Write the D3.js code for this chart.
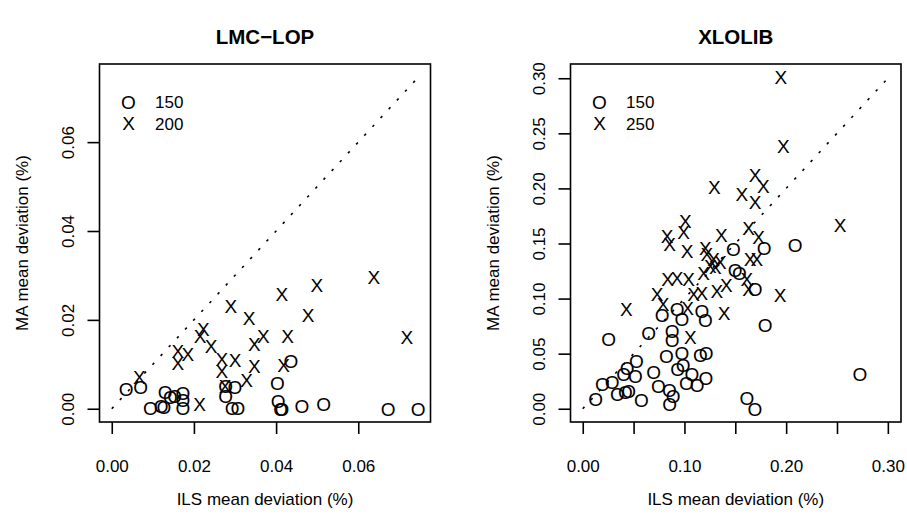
<!DOCTYPE html>
<html>
<head>
<meta charset="utf-8">
<script src="https://cdn.jsdelivr.net/npm/d3@7"></script>
<style>
  html, body { margin: 0; padding: 0; background: #fff; }
  svg { display: block; font-family: "Liberation Sans", Arial, Helvetica, sans-serif; }
</style>
</head>
<body>
<svg id="chart" width="907" height="518"></svg>
<script>
// Mean deviation (%) per instance: [ILS, MA]
const lmc150 = [
  [0.0035, 0.0043], [0.0070, 0.0048], [0.0094, 0.0001], [0.0120, 0.0006], [0.0127, 0.0004],
  [0.0130, 0.0037], [0.0143, 0.0025], [0.0153, 0.0028], [0.0173, 0.0036], [0.0173, 0.0020],
  [0.0173, 0.0001], [0.0277, 0.0050], [0.0277, 0.0029], [0.0300, 0.0049], [0.0293, 0.0001],
  [0.0307, 0.0002], [0.0403, 0.0057], [0.0405, 0.0018], [0.0411, 0.0000], [0.0414, 0.0000],
  [0.0436, 0.0108], [0.0463, 0.0005], [0.0516, 0.0011], [0.0673, 0.0000], [0.0746, 0.0000]
];
const lmc200 = [
  [0.0067, 0.0071], [0.0161, 0.0129], [0.0161, 0.0103], [0.0185, 0.0123], [0.0215, 0.0164],
  [0.0223, 0.0179], [0.0242, 0.0140], [0.0268, 0.0112], [0.0268, 0.0084], [0.0300, 0.0110],
  [0.0290, 0.0231], [0.0334, 0.0204], [0.0347, 0.0146], [0.0347, 0.0095], [0.0328, 0.0065],
  [0.0276, 0.0051], [0.0369, 0.0163], [0.0414, 0.0258], [0.0499, 0.0277], [0.0638, 0.0297],
  [0.0478, 0.0211], [0.0428, 0.0164], [0.0718, 0.0161], [0.0418, 0.0099], [0.0214, 0.0010]
];
const xlo150 = [
  [0.0927, 0.0907], [0.0780, 0.0846], [0.0976, 0.0816], [0.1172, 0.0885], [0.1205, 0.0803],
  [0.0648, 0.0689], [0.0878, 0.0703], [0.0878, 0.0621], [0.0255, 0.0628], [0.0527, 0.0430],
  [0.0822, 0.0476], [0.0976, 0.0500], [0.1156, 0.0482], [0.1214, 0.0507], [0.0436, 0.0370],
  [0.0403, 0.0318], [0.0517, 0.0294], [0.0697, 0.0330], [0.0933, 0.0361], [0.0986, 0.0400],
  [0.1074, 0.0318], [0.1211, 0.0279], [0.0289, 0.0239], [0.0193, 0.0223], [0.1018, 0.0230],
  [0.1126, 0.0214], [0.0743, 0.0209], [0.0851, 0.0167], [0.0890, 0.0118], [0.0854, 0.0045],
  [0.0341, 0.0136], [0.0419, 0.0148], [0.0452, 0.0157], [0.0576, 0.0076], [0.0128, 0.0085],
  [0.1614, 0.0097], [0.1693, 0.0000], [0.1482, 0.1447], [0.1784, 0.1462], [0.2088, 0.1483],
  [0.1499, 0.1258], [0.1541, 0.1235], [0.1695, 0.1083], [0.1794, 0.0758], [0.2726, 0.0318]
];
const xlo250 = [
  [0.1293, 0.2008], [0.1008, 0.1704], [0.0992, 0.1599], [0.0829, 0.1565], [0.1362, 0.1579],
  [0.1948, 0.3009], [0.1973, 0.2381], [0.1695, 0.2120], [0.1777, 0.2023], [0.1565, 0.1947],
  [0.1695, 0.1877], [0.1630, 0.1635], [0.1728, 0.1556], [0.2530, 0.1665], [0.0854, 0.1492],
  [0.1025, 0.1431], [0.1205, 0.1462], [0.1221, 0.1401], [0.1286, 0.1356], [0.1254, 0.1295],
  [0.0834, 0.1180], [0.0927, 0.1189], [0.1041, 0.1180], [0.1188, 0.1235], [0.1411, 0.1119],
  [0.1090, 0.1037], [0.1172, 0.1053], [0.1319, 0.1067], [0.0730, 0.1037], [0.0789, 0.0946],
  [0.0429, 0.0907], [0.1031, 0.0916], [0.1391, 0.0871], [0.1057, 0.0652], [0.1646, 0.1356],
  [0.1712, 0.1356], [0.1352, 0.1328], [0.1614, 0.1174], [0.1630, 0.1083], [0.1941, 0.1028],
  [0.1303, 0.1283]
];

const lmcTicks = [0, 0.02, 0.04, 0.06];
const xloTicks = [0, 0.05, 0.10, 0.15, 0.20, 0.25, 0.30];
const xloXLabelTicks = [0, 0.10, 0.20, 0.30];

const xTitle = "ILS mean deviation (%)";
const yTitle = "MA mean deviation (%)";

const panels = [
  {
    title: "LMC\u2212LOP",
    series: [{ sym: "O", label: "150", data: lmc150 }, { sym: "X", label: "200", data: lmc200 }],
    xTicks: lmcTicks, xLabelTicks: lmcTicks, yTicks: lmcTicks,
    left: 99.5, right: 430.5
  },
  {
    title: "XLOLIB",
    series: [{ sym: "O", label: "150", data: xlo150 }, { sym: "X", label: "250", data: xlo250 }],
    xTicks: xloTicks, xLabelTicks: xloXLabelTicks, yTicks: xloTicks,
    left: 570.5, right: 901
  }
];

const plotTop = 64, plotBottom = 422;
const labelSize = 17, symbolSize = 19, titleSize = 20.5;
const fmt = d3.format(".2f");
const isIn = (arr, v) => arr.some(a => Math.abs(a - v) < 1e-9);

const svg = d3.select("#chart");

panels.forEach(p => {
  const g = svg.append("g");
  const all = p.series.flatMap(s => s.data.flat());
  const lo = d3.min(all), hi = d3.max(all);
  const pad = (hi - lo) * 0.04;
  const lim = [lo - pad, hi + pad];

  const x = d3.scaleLinear().domain(lim).range([p.left, p.right]);
  const y = d3.scaleLinear().domain(lim).range([plotBottom, plotTop]);

  // identity reference line
  g.append("line")
    .attr("x1", x(lo)).attr("y1", y(lo))
    .attr("x2", x(hi)).attr("y2", y(hi))
    .attr("stroke", "#000").attr("stroke-width", 1.6)
    .attr("stroke-dasharray", "2.5,9.5");

  // point symbols
  p.series.forEach(s => {
    g.append("g").selectAll("text").data(s.data).join("text")
      .attr("x", d => x(d[0]))
      .attr("y", d => y(d[1]))
      .attr("dy", "0.36em")
      .attr("text-anchor", "middle")
      .attr("font-size", symbolSize)
      .text(s.sym);
  });

  // plot frame
  g.append("rect")
    .attr("x", p.left).attr("y", plotTop)
    .attr("width", p.right - p.left).attr("height", plotBottom - plotTop)
    .attr("fill", "none").attr("stroke", "#000").attr("stroke-width", 1.6);

  // x axis
  const ax = g.append("g").attr("transform", `translate(0,${plotBottom})`)
    .call(d3.axisBottom(x).tickValues(p.xTicks).tickSize(12)
      .tickFormat(d => isIn(p.xLabelTicks, d) ? fmt(d) : ""));
  ax.select(".domain").remove();
  ax.selectAll(".tick line").attr("stroke", "#000").attr("stroke-width", 1.6);
  ax.selectAll(".tick text")
    .attr("y", 50).attr("dy", null)
    .attr("fill", "#000").attr("font-size", labelSize)
    .attr("font-family", null);

  // y axis
  const ay = g.append("g").attr("transform", `translate(${p.left},0)`)
    .call(d3.axisLeft(y).tickValues(p.yTicks).tickSize(12).tickFormat(fmt));
  ay.select(".domain").remove();
  ay.selectAll(".tick line").attr("stroke", "#000").attr("stroke-width", 1.6);
  ay.selectAll(".tick text")
    .attr("x", null).attr("dy", null)
    .attr("text-anchor", "middle")
    .attr("transform", "translate(-26,0) rotate(-90)")
    .attr("fill", "#000").attr("font-size", labelSize)
    .attr("font-family", null);

  const cx = (p.left + p.right) / 2;
  const cy = (plotTop + plotBottom) / 2;

  // titles
  g.append("text")
    .attr("x", cx).attr("y", 44)
    .attr("text-anchor", "middle")
    .attr("font-size", titleSize).attr("font-weight", "bold")
    .text(p.title);
  g.append("text")
    .attr("x", cx).attr("y", 505)
    .attr("text-anchor", "middle")
    .attr("font-size", labelSize)
    .text(xTitle);
  g.append("text")
    .attr("transform", `translate(${p.left - 71.5},${cy}) rotate(-90)`)
    .attr("text-anchor", "middle")
    .attr("font-size", labelSize)
    .text(yTitle);

  // legend
  const lg = g.append("g");
  p.series.forEach((s, i) => {
    const ly = plotTop + 38 + i * 21.5;
    lg.append("text")
      .attr("x", p.left + 29).attr("y", ly).attr("dy", "0.36em")
      .attr("text-anchor", "middle").attr("font-size", symbolSize)
      .text(s.sym);
    lg.append("text")
      .attr("x", p.left + 55.5).attr("y", ly).attr("dy", "0.36em")
      .attr("font-size", labelSize)
      .text(s.label);
  });
});
</script>
</body>
</html>
